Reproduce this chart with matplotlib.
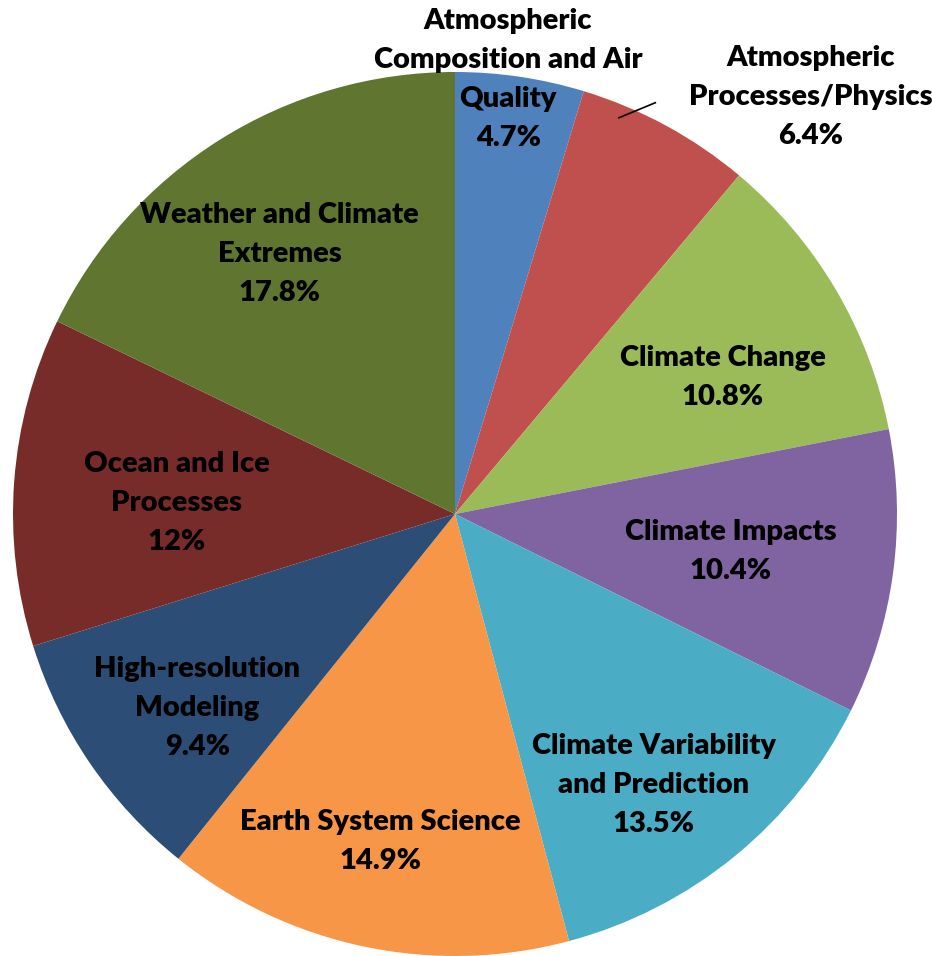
import numpy as np
import matplotlib
matplotlib.use('Agg')
import matplotlib.pyplot as plt

labels = ['Atmospheric\nComposition and Air\nQuality', 'Atmospheric\nProcesses/Physics',
          'Climate Change', 'Climate Impacts', 'Climate Variability\nand Prediction',
          'Earth System Science', 'High-resolution\nModeling', 'Ocean and Ice\nProcesses',
          'Weather and Climate\nExtremes']
values = [4.7, 6.4, 10.8, 10.4, 13.5, 14.9, 9.4, 12, 17.8]
pct_text = ['4.7%', '6.4%', '10.8%', '10.4%', '13.5%', '14.9%', '9.4%', '12%', '17.8%']
colors = ['#4F81BD', '#C0504D', '#9BBB59', '#8064A2', '#4BACC6',
          '#F79646', '#2C4D75', '#772C2A', '#5F7530']

# label placement (radius fraction, angle nudge in degrees)
label_r = [0.99, 1.24, 0.68, 0.63, 0.76, 0.76, 0.73, 0.63, 0.71]
label_shift = [1.5, -12, -3.5, 0, -3, -1, 2.7, 1.9, 1.9]

plt.rcParams['font.family'] = ['Lato', 'DejaVu Sans']

fig = plt.figure(figsize=(9.32, 9.56), dpi=100)
ax = fig.add_axes([13/932, 0/956, 884/932, 884/956])

wedges, _ = ax.pie(values, colors=colors, startangle=90, counterclock=False,
                   radius=1, wedgeprops=dict(linewidth=0))

total = sum(values)
cum = np.cumsum([0] + values[:-1])
for i, w in enumerate(wedges):
    mid = 90 - (cum[i] + values[i] / 2) / total * 360
    ang = np.deg2rad(mid + label_shift[i])
    x = label_r[i] * np.cos(ang)
    y = label_r[i] * np.sin(ang)
    ax.text(x, y, labels[i] + '\n' + pct_text[i], ha='center', va='center',
            fontsize=21, fontweight='heavy', linespacing=1.62, color='black')
    if i == 1:
        a0 = np.deg2rad(mid + 2.5)
        a1 = np.deg2rad(mid + 6)
        ax.plot([1.035 * np.cos(a0), 0.97 * np.cos(a1)],
                [1.035 * np.sin(a0), 0.97 * np.sin(a1)], color='black', lw=1.2)

ax.set_xlim(-1, 1)
ax.set_ylim(-1, 1)
ax.set_aspect('equal')
ax.axis('off')

fig.savefig('out.png', dpi=100)
